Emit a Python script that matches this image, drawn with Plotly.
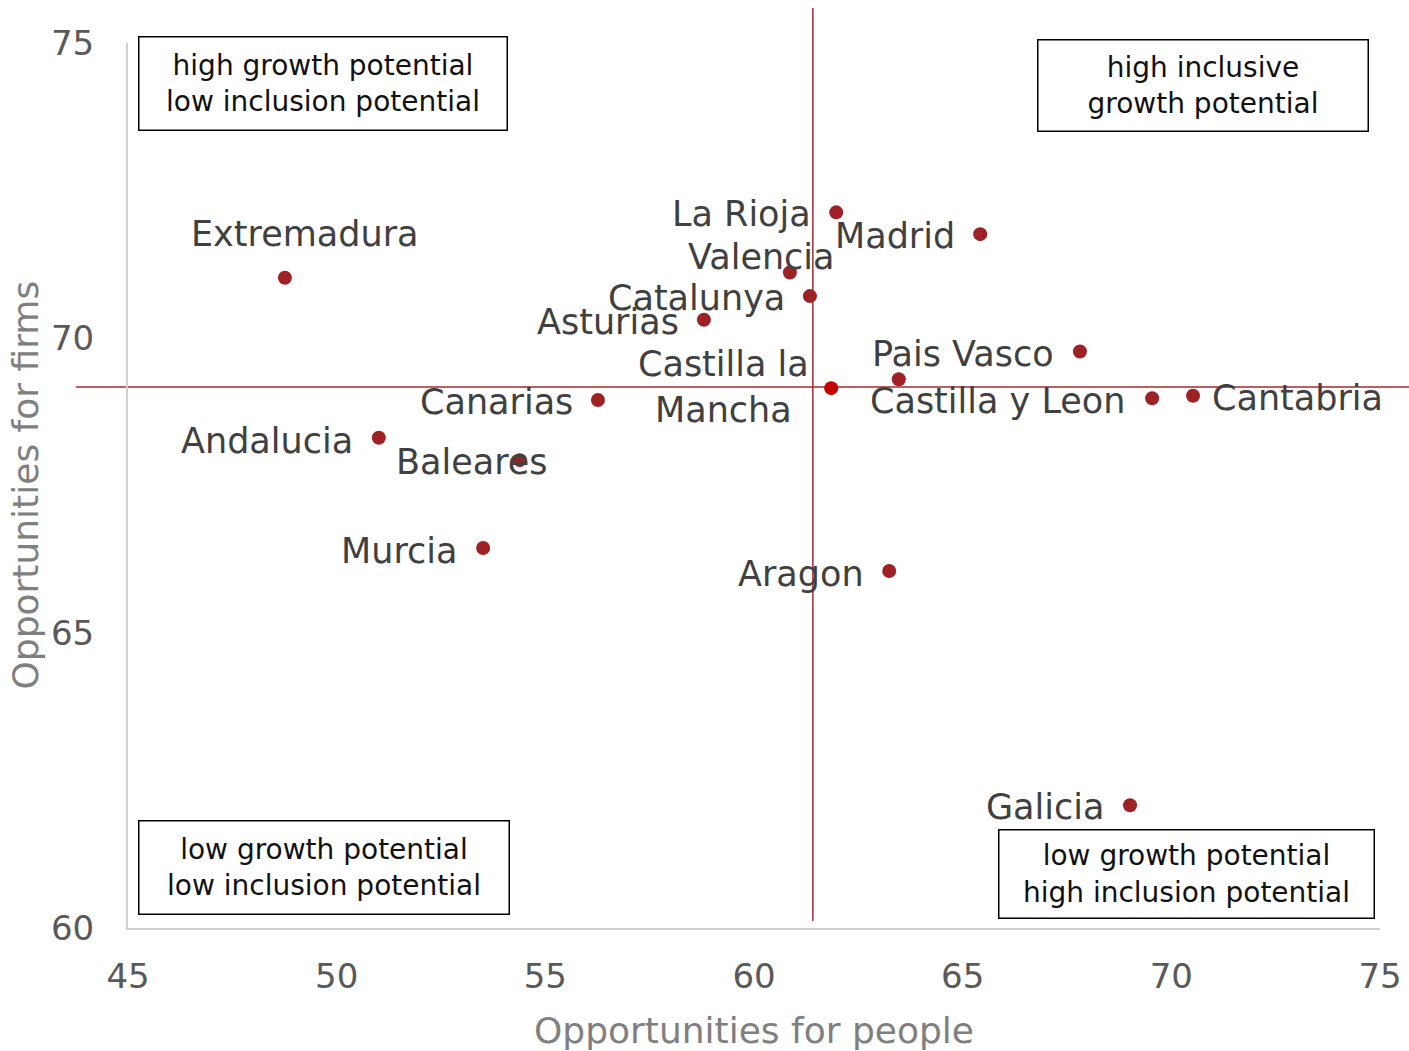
import plotly.graph_objects as go

regions = ["Extremadura", "Andalucia", "Baleares", "Murcia", "Canarias", "Asturias",
           "Catalunya", "Valencia", "La Rioja", "Madrid", "Castilla la<br>Mancha", "",
           "Pais Vasco", "Castilla y Leon", "Cantabria", "Aragon", "Galicia"]
people = [48.76, 51.01, 54.39, 53.51, 56.26, 58.80, 61.34, 60.86, 61.97, 65.42, 61.85, 63.47,
          67.81, 69.54, 70.52, 63.24, 69.01]
firms = [71.02, 68.31, 67.93, 66.44, 68.95, 70.31, 70.71, 71.11, 72.13, 71.76, 69.15, 69.30,
         69.77, 68.98, 69.02, 66.05, 62.08]
mean_people = 61.41
mean_firms = 69.17
x_ticks = [45, 50, 55, 60, 65, 70, 75]
y_ticks = [60, 65, 70, 75]
x_title = "Opportunities for people"
y_title = "Opportunities for firms"
quadrant_texts = ["high growth potential<br>low inclusion potential",
                  "high inclusive<br>growth potential",
                  "low growth potential<br>low inclusion potential",
                  "low growth potential<br>high inclusion potential"]

# label placement (anchor, xshift, yshift) in pixels
label_pos = [("center", 20, 44), ("right", -24, -3), ("right", 30, -2), ("right", -24, -3),
             ("right", -23, -2), ("right", -23, -2), ("right", -23, -2), ("right", 47, 16),
             ("right", -23, -2), ("right", -23, -2), ("center", -108, 1), ("right", 0, 0),
             ("right", -24, -2), ("right", -25, -3), ("left", 17, -2), ("right", -23, -3),
             ("right", -24, -2)]

FONT = "DejaVu Sans"
dot = "#9E2125"
hl = "#C00000"
colors = [hl if r.startswith("Castilla la") else dot for r in regions]

fig = go.Figure()
fig.add_trace(go.Scatter(x=people, y=firms, mode="markers",
                         marker=dict(size=14, color=colors, line=dict(width=0)),
                         hoverinfo="text", text=[r.replace("<br>", " ") for r in regions],
                         cliponaxis=False, showlegend=False))

ann = []
for r, x, y, (anc, dx, dy) in zip(regions, people, firms, label_pos):
    if not r:
        continue
    ann.append(dict(x=x, y=y, xref="x", yref="y", text=r, showarrow=False,
                    xanchor=anc, yanchor="middle", xshift=dx, yshift=dy, align="center",
                    font=dict(family=FONT, size=35, color="#404040")))

# body margin is removed in the page (post_script), so the figure fills the window
L, T, PW, PH = 128, 43, 1252, 885
W, H = 1409, 1051
boxes = [(138, 507, 37, 131), (1037, 1368, 39, 131), (138, 509, 820, 914), (998, 1374, 829, 918)]
for txt, (x0, x1, y0, y1) in zip(quadrant_texts, boxes):
    ann.append(dict(x=((x0 + x1) / 2 - L) / PW, y=(T + PH - (y0 + y1) / 2) / PH,
                    xref="paper", yref="paper", text=txt, showarrow=False,
                    xanchor="center", yanchor="middle", align="center",
                    width=x1 - x0 - 2, height=y1 - y0 - 2, borderpad=0,
                    bordercolor="#000000", borderwidth=1.5, bgcolor="#ffffff",
                    font=dict(family=FONT, size=28, color="#111111")))

# y axis title as rotated annotation
ann.append(dict(x=(25 - L) / PW, y=0.5, xref="paper", yref="paper", text=y_title,
                showarrow=False, textangle=-90, xanchor="center", yanchor="middle",
                font=dict(family=FONT, size=36, color="#7F7F7F")))

shapes = [
    dict(type="line", xref="x", yref="y domain", x0=mean_people, x1=mean_people,
         y0=(T + PH - 921) / PH, y1=(T + PH - 8) / PH,
         line=dict(color="#A8292D", width=1.5), layer="below"),
    dict(type="line", xref="x domain", yref="y", x0=(76 - L) / PW, x1=(1409 - L) / PW,
         y0=mean_firms, y1=mean_firms,
         line=dict(color="#A8292D", width=1.5), layer="below"),
]

fig.update_layout(
    width=W, height=H,
    margin=dict(l=L, r=W - L - PW, t=T, b=H - T - PH, autoexpand=False),
    paper_bgcolor="white", plot_bgcolor="white",
    font=dict(family=FONT, color="#595959"),
    annotations=ann, shapes=shapes,
    xaxis=dict(range=[45, 75], tickvals=x_ticks, showgrid=False, zeroline=False,
               automargin=False,
               showline=True, linecolor="#D0D0D0", linewidth=2, ticks="",
               tickfont=dict(size=34, color="#595959"), ticklabelstandoff=17,
               title=dict(text=x_title, standoff=23,
                          font=dict(size=36, color="#7F7F7F"))),
    yaxis=dict(range=[60, 75], tickvals=y_ticks, showgrid=False, zeroline=False,
               automargin=False,
               showline=True, linecolor="#D0D0D0", linewidth=2, ticks="",
               tickfont=dict(size=34, color="#595959"), ticklabelstandoff=25),
)

fig.write_html("out.html", config={"displayModeBar": False},
               post_script="document.body.style.margin='0';document.body.style.overflow='hidden';")
